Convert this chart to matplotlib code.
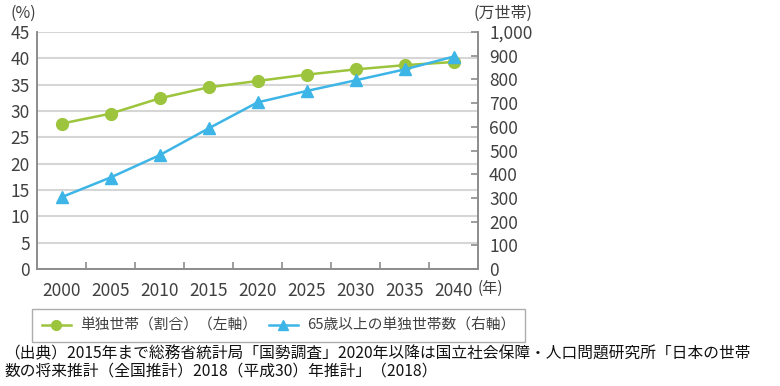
import numpy as np
import matplotlib
matplotlib.use("Agg")
import matplotlib.pyplot as plt
from matplotlib.ticker import FuncFormatter, MultipleLocator

plt.rcParams['font.family'] = ['Noto Sans CJK JP', 'DejaVu Sans']

""" DATA """
years = ['2000', '2005', '2010', '2015', '2020', '2025', '2030', '2035', '2040']
single_share = [27.6, 29.5, 32.4, 34.5, 35.7, 36.9, 37.9, 38.7, 39.3]      # %  (left axis)
elderly_single = [303, 386, 480, 593, 703, 751, 796, 842, 896]            # 万世帯 (right axis)

label_share = '単独世帯（割合）（左軸）'
label_elderly = '65歳以上の単独世帯数（右軸）'
source_lines = ['（出典）2015年まで総務省統計局「国勢調査」2020年以降は国立社会保障・人口問題研究所「日本の世帯',
                '数の将来推計（全国推計）2018（平成30）年推計」（2018）']

green = '#9cc43c'
blue = '#3db5e6'
txt = '#404040'
grid = '#d6d6d6'
axcol = '#8c8c8c'

W, H = 780, 386
def fx(px): return px / W
def fy(py): return 1 - py / H

""" PLOT """
fig = plt.figure(figsize=(7.8, 3.86), dpi=100)
ax = fig.add_axes([fx(37), fy(269), fx(478) - fx(37), fy(32) - fy(269)])
ax2 = ax.twinx()

x = np.arange(len(years))
ax.plot(x, single_share, color=green, lw=1.8, marker='o', ms=8.5, zorder=3)
ax2.plot(x, elderly_single, color=blue, lw=1.8, marker='^', ms=9, zorder=3)

ax.set_xlim(-0.5, len(years) - 0.5)
ax.set_ylim(0, 45)
ax2.set_ylim(0, 1000)
ax.yaxis.set_major_locator(MultipleLocator(5))
ax2.yaxis.set_major_locator(MultipleLocator(100))
ax2.yaxis.set_major_formatter(FuncFormatter(lambda v, p: f'{int(v):,}'))

ax.set_xticks(x)
ax.set_xticklabels(years)
ax.set_xticks(np.arange(0.5, len(years) - 1, 1), minor=True)
ax.tick_params(axis='x', which='major', length=0, pad=9, labelsize=12.5, labelcolor=txt)
ax.tick_params(axis='x', which='minor', length=5, direction='in', color=axcol, width=1.2)
ax.tick_params(axis='y', length=0, pad=5, labelsize=12.5, labelcolor=txt)
ax2.tick_params(axis='y', length=5, direction='in', pad=8, labelsize=12.5,
                labelcolor=txt, color=axcol, width=1.2)

ax.grid(axis='y', color=grid, lw=1.5)
ax.set_axisbelow(True)
for a in (ax, ax2):
    a.spines['top'].set_visible(False)
    for s in ('left', 'right', 'bottom'):
        a.spines[s].set_color(axcol)
        a.spines[s].set_linewidth(1.2)

fig.text(fx(10), fy(13), '(%)', fontsize=11.5, color=txt, va='center', ha='left')
fig.text(fx(474), fy(13), '(万世帯)', fontsize=11.5, color=txt, va='center', ha='left')
fig.text(fx(478), fy(288), '(年)', fontsize=11, color=txt, va='center', ha='left')

h1, = ax.plot([], [], color=green, lw=1.8, marker='o', ms=7)
h2, = ax.plot([], [], color=blue, lw=1.8, marker='^', ms=7)
leg = ax.legend([h1, h2], [label_share, label_elderly], ncol=2, fontsize=10.6,
                loc='upper left', bbox_to_anchor=(fx(32), fy(309)), bbox_transform=fig.transFigure,
                borderaxespad=0, frameon=True, fancybox=False, edgecolor='#999999',
                handlelength=2.0, handletextpad=0.6, columnspacing=0.8, borderpad=0.65)
leg.get_frame().set_linewidth(1.0)
for t in leg.get_texts():
    t.set_color(txt)

fig.text(fx(4), fy(354), source_lines[0], fontsize=11.3, color='#111111', va='center', ha='left')
fig.text(fx(4), fy(371), source_lines[1], fontsize=11.3, color='#111111', va='center', ha='left')

plt.savefig('out.png', dpi=100)
